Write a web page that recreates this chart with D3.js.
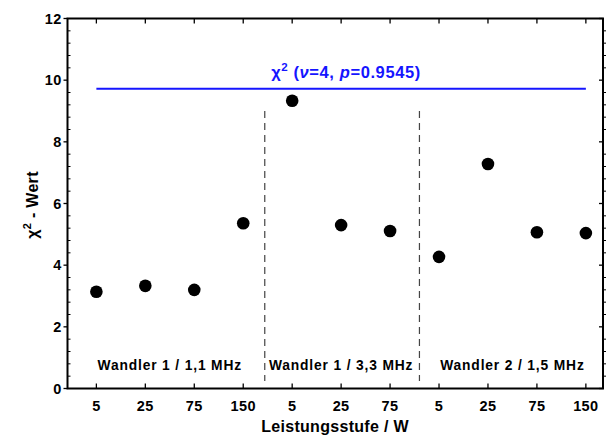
<!DOCTYPE html>
<html>
<head>
<meta charset="utf-8">
<script src="https://cdn.jsdelivr.net/npm/d3@7"></script>
<style>
  body { margin: 0; background: #fff; }
  svg { font-family: "Liberation Sans", Arial, sans-serif; font-weight: bold; }
</style>
</head>
<body>
<svg id="chart" width="606" height="435"></svg>
<script>
// data
const powerLevels = ["5", "25", "75", "150", "5", "25", "75", "5", "25", "75", "150"];
const chiValues = [3.14, 3.33, 3.2, 5.36, 9.33, 5.3, 5.11, 4.27, 7.28, 5.07, 5.04];
const groupNames = ["Wandler 1 / 1,1 MHz", "Wandler 1 / 3,3 MHz", "Wandler 2 / 1,5 MHz"];
const groupRanges = [[0, 3], [4, 6], [7, 10]];
const groupBorders = [3.44, 6.6];
const chiLimit = 9.72;
const yTicks = [0, 2, 4, 6, 8, 10, 12];

let svg = d3.select("#chart");
const pLeft = 67.5, pRight = 603, pTop = 18.5, pBottom = 388.5;

let x = d3.scaleLinear().domain([-0.59, 10.35]).range([pLeft, pRight]);
let y = d3.scaleLinear().domain([0, 12]).range([pBottom, pTop]);

let g = svg.append("g");

// frame
g.append("rect")
  .attr("x", pLeft).attr("y", pTop)
  .attr("width", pRight - pLeft).attr("height", pBottom - pTop)
  .attr("fill", "none").attr("stroke", "#000").attr("stroke-width", 2);

// y ticks: majors outward, minors inward, on both sides
let minor = d3.range(0, 12.01, 0.4).filter(v => Math.abs(v / 2 - Math.round(v / 2)) > 0.01);
yTicks.forEach(v => {
  g.append("line").attr("x1", pLeft - 4).attr("x2", pLeft).attr("y1", y(v)).attr("y2", y(v))
    .attr("stroke", "#000").attr("stroke-width", 1.3);
  g.append("line").attr("x1", pRight - 4).attr("x2", pRight).attr("y1", y(v)).attr("y2", y(v))
    .attr("stroke", "#000").attr("stroke-width", 1.3);
  g.append("text").attr("x", pLeft - 6).attr("y", y(v) + 5)
    .attr("text-anchor", "end").attr("font-size", 14.5).attr("letter-spacing", 0.3).text(v);
});
minor.forEach(v => {
  g.append("line").attr("x1", pLeft).attr("x2", pLeft + 3).attr("y1", y(v)).attr("y2", y(v))
    .attr("stroke", "#000").attr("stroke-width", 1);
  g.append("line").attr("x1", pRight).attr("x2", pRight + 3).attr("y1", y(v)).attr("y2", y(v))
    .attr("stroke", "#000").attr("stroke-width", 1);
});

// x ticks
powerLevels.forEach((lab, i) => {
  g.append("line").attr("x1", x(i)).attr("x2", x(i)).attr("y1", pBottom).attr("y2", pBottom - 5)
    .attr("stroke", "#000").attr("stroke-width", 1.3);
  g.append("line").attr("x1", x(i)).attr("x2", x(i)).attr("y1", pTop).attr("y2", pTop + 5)
    .attr("stroke", "#000").attr("stroke-width", 1.3);
  g.append("text").attr("x", x(i)).attr("y", 411)
    .attr("text-anchor", "middle").attr("font-size", 14.5).attr("letter-spacing", 0.4).text(lab);
});

// group separators
groupBorders.forEach(b => {
  g.append("line").attr("x1", x(b)).attr("x2", x(b)).attr("y1", 111).attr("y2", 381)
    .attr("stroke", "#444").attr("stroke-width", 1.2).attr("stroke-dasharray", "7,5");
});

// group labels
groupNames.forEach((name, k) => {
  let r = groupRanges[k];
  g.append("text").attr("x", (x(r[0]) + x(r[1])) / 2).attr("y", 370)
    .attr("text-anchor", "middle").attr("font-size", 13.8).attr("letter-spacing", 0.85).text(name);
});

// chi-square limit
g.append("line")
  .attr("x1", x(0)).attr("x2", x(10)).attr("y1", y(chiLimit)).attr("y2", y(chiLimit))
  .attr("stroke", "#1515ff").attr("stroke-width", 2);

let lt = g.append("text").attr("x", 346).attr("y", 78).attr("text-anchor", "middle")
  .attr("fill", "#1515ff").attr("font-size", 16.5).attr("letter-spacing", 0.6);
lt.append("tspan").text("χ");
lt.append("tspan").attr("dy", -7).attr("font-size", 11.5).text("2");
lt.append("tspan").attr("dy", 7).text(" (");
lt.append("tspan").attr("font-style", "italic").text("ν");
lt.append("tspan").text("=4, ");
lt.append("tspan").attr("font-style", "italic").text("p");
lt.append("tspan").text("=0.9545)");

// points
g.selectAll("circle.pt").data(chiValues).enter().append("circle")
  .attr("class", "pt")
  .attr("cx", (d, i) => x(i)).attr("cy", d => y(d))
  .attr("r", 6.3).attr("fill", "#000");

// axis titles
g.append("text").attr("x", 335).attr("y", 432).attr("text-anchor", "middle")
  .attr("font-size", 16).attr("letter-spacing", 0.3).text("Leistungsstufe / W");

let yt = g.append("text").attr("transform", "translate(38,205) rotate(-90)")
  .attr("text-anchor", "middle").attr("font-size", 16).attr("letter-spacing", 0.3);
yt.append("tspan").text("χ");
yt.append("tspan").attr("dy", -7).attr("font-size", 11).text("2");
yt.append("tspan").attr("dy", 7).text(" - Wert");
</script>
</body>
</html>
